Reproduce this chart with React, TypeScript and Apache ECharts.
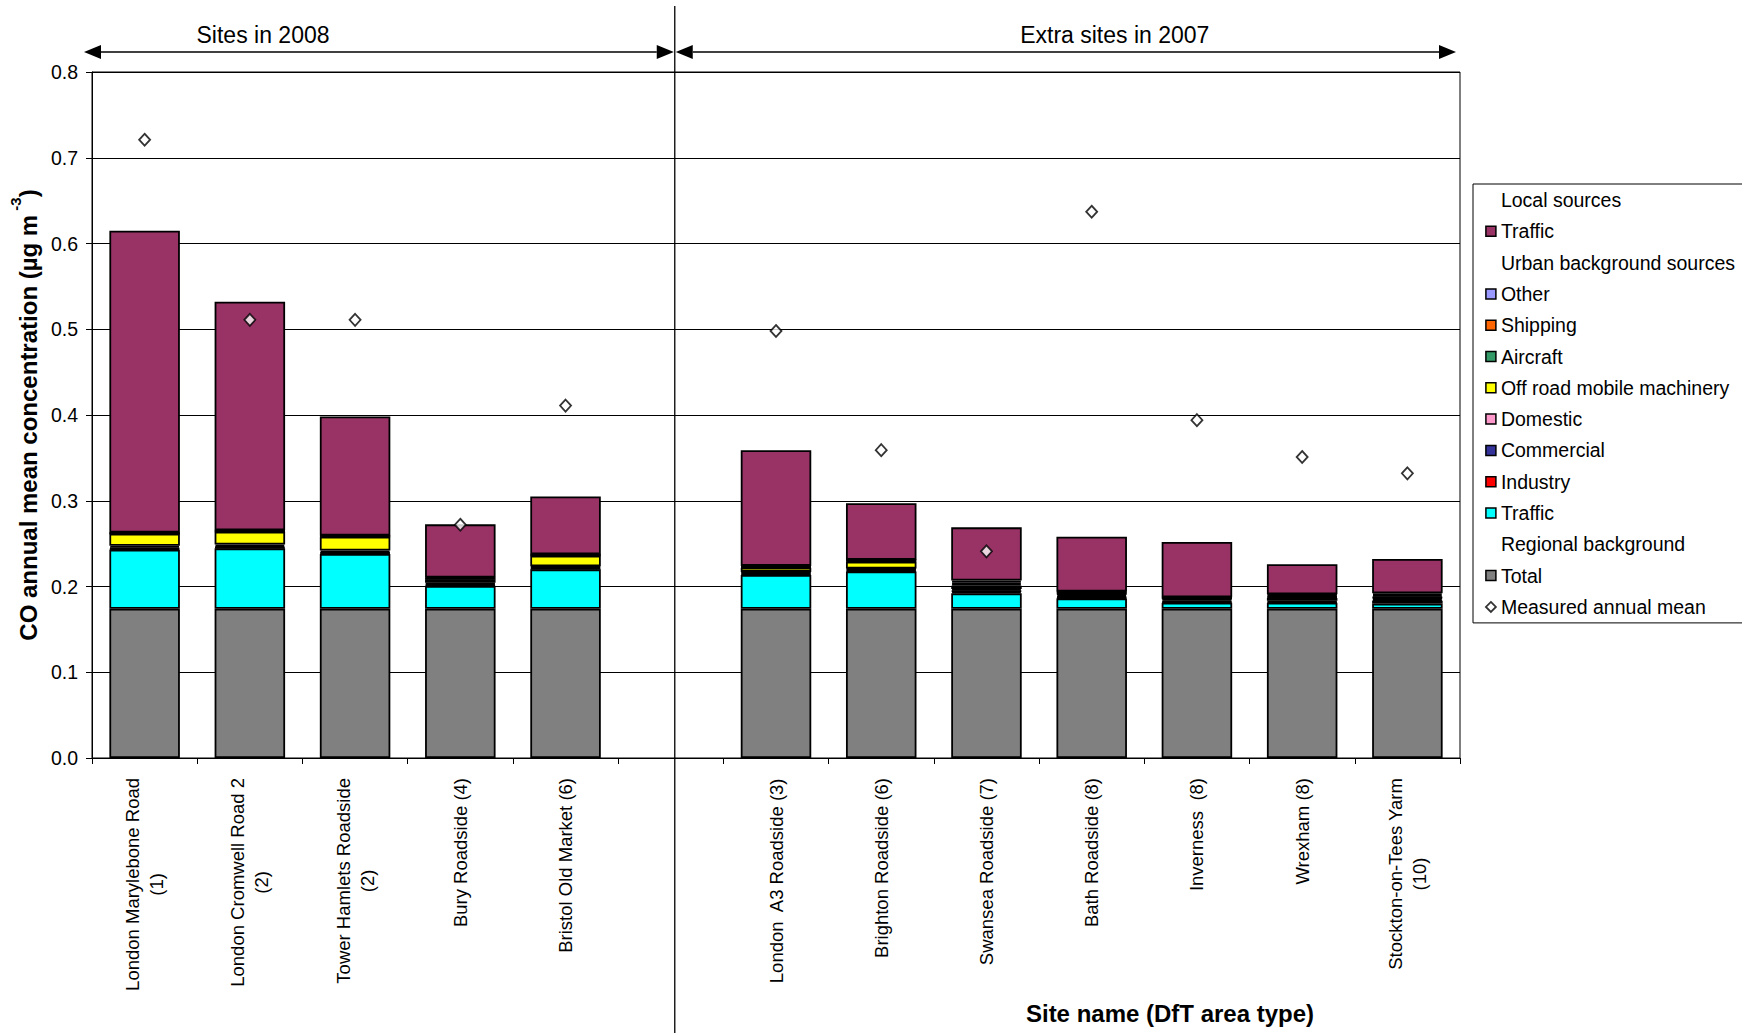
import React, { useEffect, useRef } from 'react';
import * as echarts from 'echarts';

const FONT = "'Liberation Sans', Arial, sans-serif";

const SITES_2008 = [
  'London Marylebone Road\n(1)',
  'London Cromwell Road 2\n(2)',
  'Tower Hamlets Roadside\n(2)',
  'Bury Roadside (4)',
  'Bristol Old Market (6)',
];
const SITES_2007 = [
  'London  A3 Roadside (3)',
  'Brighton Roadside (6)',
  'Swansea Roadside (7)',
  'Bath Roadside (8)',
  'Inverness  (8)',
  'Wrexham (8)',
  'Stockton-on-Tees Yarm\n(10)',
];
const CATEGORIES = [...SITES_2008, '', ...SITES_2007];
const GAP = SITES_2008.length;

// Values (µg m-3), 12 sites in order (2008 sites, then extra 2007 sites)
const REGIONAL_TOTAL = [0.174, 0.174, 0.174, 0.174, 0.174, 0.174, 0.174, 0.174, 0.174, 0.174, 0.174, 0.174];
const URBAN_TRAFFIC = [0.069, 0.0705, 0.064, 0.0265, 0.046, 0.0395, 0.0435, 0.018, 0.012, 0.007, 0.007, 0.006];
const INDUSTRY = [0.001, 0.001, 0.001, 0.001, 0.001, 0.001, 0.001, 0.002, 0.001, 0.001, 0.001, 0.003];
const COMMERCIAL = [0.0015, 0.0015, 0.001, 0.0015, 0.0015, 0.0015, 0.0015, 0.001, 0.0015, 0.0015, 0.0015, 0.001];
const DOMESTIC = [0.002, 0.002, 0.002, 0.0015, 0.001, 0.001, 0.001, 0.002, 0.002, 0.002, 0.003, 0.002];
const OFF_ROAD = [0.014, 0.015, 0.016, 0.004, 0.0125, 0.005, 0.008, 0.004, 0.001, 0.0005, 0.001, 0.001];
const AIRCRAFT = [0.0005, 0.0005, 0.0005, 0.0007, 0.0005, 0.0007, 0.0007, 0.002, 0.001, 0.0005, 0.001, 0.001];
const SHIPPING = [0.0003, 0.0005, 0.0003, 0.0007, 0.0005, 0.0007, 0.0007, 0.002, 0.001, 0.0005, 0.0015, 0.002];
const OTHER = [0.0005, 0.0005, 0.0005, 0.0006, 0.0005, 0.0006, 0.0006, 0.002, 0.0007, 0.0005, 0.001, 0.002];
const LOCAL_TRAFFIC = [0.352, 0.2665, 0.139, 0.062, 0.0675, 0.135, 0.066, 0.062, 0.0638, 0.0645, 0.035, 0.04];
const MEASURED = [0.721, 0.511, 0.511, 0.272, 0.411, 0.498, 0.359, 0.241, 0.637, 0.394, 0.351, 0.332];

const Y_MIN = 0;
const Y_MAX = 0.8;
const Y_STEP = 0.1;

const withGap = (arr: number[]) => [...arr.slice(0, GAP), null, ...arr.slice(GAP)];

const STACK = [
  { name: 'Total', color: '#808080', data: REGIONAL_TOTAL },
  { name: 'Traffic ', color: '#00FFFF', data: URBAN_TRAFFIC },
  { name: 'Industry', color: '#FF0000', data: INDUSTRY },
  { name: 'Commercial', color: '#333399', data: COMMERCIAL },
  { name: 'Domestic', color: '#FF99CC', data: DOMESTIC },
  { name: 'Off road mobile machinery', color: '#FFFF00', data: OFF_ROAD },
  { name: 'Aircraft', color: '#339966', data: AIRCRAFT },
  { name: 'Shipping', color: '#FF6600', data: SHIPPING },
  { name: 'Other', color: '#9999FF', data: OTHER },
  { name: 'Traffic', color: '#993366', data: LOCAL_TRAFFIC },
];

const HEADERS = ['Local sources', 'Urban background sources', 'Regional background'];

export default function App() {
  const ref = useRef<HTMLDivElement>(null);

  useEffect(() => {
    if (!ref.current) return;
    const chart = echarts.init(ref.current, undefined, { renderer: 'svg' });

    const barSeries = STACK.map((s) => ({
      name: s.name,
      type: 'bar',
      stack: 'co',
      barWidth: '67%',
      data: withGap(s.data),
      itemStyle: { color: s.color, borderColor: '#000', borderWidth: 1.8 },
      emphasis: { disabled: true },
    }));
    const headerSeries = HEADERS.map((h) => ({
      name: h,
      type: 'bar',
      stack: 'co',
      barWidth: '67%',
      data: [],
    }));

    chart.setOption({
      animation: false,
      textStyle: { fontFamily: FONT, color: '#000' },
      grid: {
        left: 92,
        right: 282,
        top: 72,
        bottom: 275,
        show: true,
        borderColor: '#000',
        borderWidth: 1,
        backgroundColor: 'transparent',
      },
      legend: {
        orient: 'vertical',
        left: 1473,
        top: 184,
        padding: [6, 30, 6, 12],
        itemGap: 11.3,
        itemWidth: 10,
        itemHeight: 10,
        icon: 'rect',
        borderColor: '#000',
        borderWidth: 1,
        selectedMode: false,
        itemStyle: { borderColor: '#000', borderWidth: 1.5 },
        textStyle: { fontSize: 19.5, color: '#000', fontFamily: FONT },
        data: [
          { name: 'Local sources', icon: 'none' },
          'Traffic',
          { name: 'Urban background sources', icon: 'none' },
          'Other',
          'Shipping',
          'Aircraft',
          'Off road mobile machinery',
          'Domestic',
          'Commercial',
          'Industry',
          'Traffic ',
          { name: 'Regional background', icon: 'none' },
          'Total',
          { name: 'Measured annual mean', icon: 'diamond', itemStyle: { color: '#fff', borderColor: '#000', borderWidth: 1.8 } },
        ],
      },
      xAxis: {
        type: 'category',
        data: CATEGORIES,
        name: 'Site name (DfT area type)',
        nameLocation: 'middle',
        nameGap: 243,
        nameTextStyle: {
          fontSize: 24,
          fontWeight: 'bold',
          color: '#000',
          fontFamily: FONT,
          padding: [0, 0, 0, 788],
        },
        axisLine: { lineStyle: { color: '#000', width: 1 } },
        axisTick: { show: true, interval: 0, length: 6, lineStyle: { color: '#000' } },
        axisLabel: {
          interval: 0,
          rotate: 90,
          margin: 20,
          color: '#000',
          fontSize: 18.5,
          lineHeight: 24,
          fontFamily: FONT,
          formatter: (v: string) =>
            v ? v.split('\n').map((l) => `{c|${l}}`).join('\n') : '',
          rich: { c: { align: 'center', fontSize: 18.5, lineHeight: 24, fontFamily: FONT, color: '#000' } },
        },
      },
      yAxis: {
        type: 'value',
        min: Y_MIN,
        max: Y_MAX,
        interval: Y_STEP,
        name: '{t|CO annual mean concentration (µg m}{s| -3}{t|)}',
        nameLocation: 'middle',
        nameRotate: 90,
        nameGap: 50,
        nameTextStyle: {
          rich: {
            t: { fontSize: 24, fontWeight: 'bold', fontFamily: FONT, color: '#000', verticalAlign: 'bottom', padding: [8, 0, 0, 0] },
            s: { fontSize: 15, fontWeight: 'bold', fontFamily: FONT, color: '#000', verticalAlign: 'top' },
          },
        },
        axisLine: { show: true, lineStyle: { color: '#000', width: 1 } },
        axisTick: { show: true, length: 6, lineStyle: { color: '#000' } },
        splitLine: { show: true, lineStyle: { color: '#000', width: 1 } },
        axisLabel: {
          margin: 14,
          fontSize: 19.5,
          color: '#000',
          fontFamily: FONT,
          formatter: (v: number) => v.toFixed(1),
        },
      },
      series: [
        ...barSeries,
        ...headerSeries,
        {
          name: 'Measured annual mean',
          type: 'scatter',
          data: withGap(MEASURED),
          symbol: 'diamond',
          symbolSize: [11, 12],
          itemStyle: { color: '#fff', borderColor: '#000', borderWidth: 1.8 },
          emphasis: { disabled: true },
          z: 5,
        },
      ],
    });

    // annotations placed from the axis scales
    const px0 = chart.convertToPixel({ xAxisIndex: 0 }, 0) as number;
    const px1 = chart.convertToPixel({ xAxisIndex: 0 }, 1) as number;
    const pxLast = chart.convertToPixel({ xAxisIndex: 0 }, CATEGORIES.length - 1) as number;
    const xSep = (chart.convertToPixel({ xAxisIndex: 0 }, GAP) as number) + 4;
    const yTop = chart.convertToPixel({ yAxisIndex: 0 }, Y_MAX) as number;
    const band = px1 - px0;
    const xL = px0 - band / 2;
    const xR = pxLast + band / 2;
    const yA = yTop - 20;
    const ah = 17;
    const aw = 7;
    const lineStyle = { stroke: '#000', lineWidth: 1.3 };
    const head = (tip: number, dir: number) => ({
      type: 'polygon',
      shape: { points: [[tip, yA], [tip + dir * ah, yA - aw], [tip + dir * ah, yA + aw]] },
      style: { fill: '#000' },
    });
    const aL1 = xL - 8;
    const aR1 = xSep - 1;
    const aL2 = xSep + 1;
    const aR2 = xR - 4;

    chart.setOption({
      graphic: [
        { type: 'line', shape: { x1: xSep, y1: 6, x2: xSep, y2: 1033 }, style: { stroke: '#000', lineWidth: 1.3 } },
        { type: 'line', shape: { x1: aL1 + ah, y1: yA, x2: aR1 - ah, y2: yA }, style: lineStyle },
        head(aL1, 1),
        head(aR1, -1),
        { type: 'line', shape: { x1: aL2 + ah, y1: yA, x2: aR2 - ah, y2: yA }, style: lineStyle },
        head(aL2, 1),
        head(aR2, -1),
        {
          type: 'text',
          x: xL + 171,
          y: yA - 17,
          style: { text: 'Sites in 2008', fontSize: 23, fontFamily: FONT, fill: '#000', align: 'center', verticalAlign: 'middle' },
        },
        {
          type: 'text',
          x: xSep + 440,
          y: yA - 17,
          style: { text: 'Extra sites in 2007', fontSize: 23, fontFamily: FONT, fill: '#000', align: 'center', verticalAlign: 'middle' },
        },
      ],
    });

    return () => chart.dispose();
  }, []);

  return (
    <div
      ref={ref}
      style={{ position: 'fixed', left: 0, top: 0, width: 1742, height: 1033, background: '#fff' }}
    />
  );
}
